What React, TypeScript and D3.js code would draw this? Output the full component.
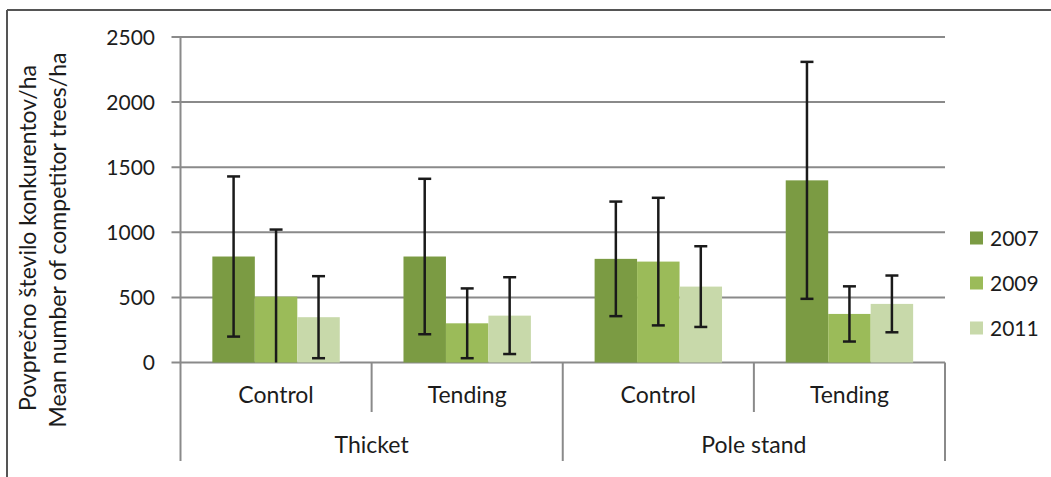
import React from 'react';
import * as d3 from 'd3';

// groups on the x axis (outer) and their sub-categories (inner)
const parents = ['Thicket', 'Pole stand'];
const treatments = ['Control', 'Tending'];
const years = ['2007', '2009', '2011'];

// mean competitor trees/ha, one array per year, order: Thicket Control, Thicket Tending, Pole Control, Pole Tending
const mean2007 = [814, 814, 796, 1399];
const mean2009 = [506, 301, 775, 373];
const mean2011 = [348, 360, 583, 450];

// error (+/-) for each bar
const err2007 = [615, 597, 440, 910];
const err2009 = [515, 268, 490, 212];
const err2011 = [315, 295, 310, 218];

const yTicks = [0, 500, 1000, 1500, 2000, 2500];

const colors = ['#7b9b43', '#9bbb59', '#c8d9aa'];
const FONT = 'Lato, "Open Sans", sans-serif';
const GRID = '#8a8a8a';
const TEXT = '#1c1c1c';

const W = 1051;
const H = 477;
const left = 180.5;
const right = 945;
const top = 37;
const bottom = 362.5;

const App = () => {
  const means = [mean2007, mean2009, mean2011];
  const errs = [err2007, err2009, err2011];

  const groups = parents.flatMap((p) => treatments.map((t) => `${p}|${t}`));

  const y = d3.scaleLinear().domain([0, 2500]).range([bottom, top]);
  const x0 = d3.scaleBand().domain(groups).range([left, right]).paddingInner(0).paddingOuter(0);
  const x1 = d3.scaleBand().domain(years).range([0, x0.bandwidth()]).paddingInner(0).paddingOuter(0.75);

  const capHalf = 6.5;

  return (
    <svg width={W} height={H} style={{ position: 'absolute', left: 0, top: 0, background: '#fff' }}>
      {/* frame */}
      <line x1={7} x2={W} y1={10} y2={10} stroke="#555" strokeWidth={2} />
      <line x1={7} x2={7} y1={10} y2={H} stroke="#555" strokeWidth={2} />

      {/* grid and y ticks */}
      {yTicks.map((t) => (
        <g key={t}>
          <line x1={left - 9} x2={right} y1={y(t)} y2={y(t)} stroke={GRID} strokeWidth={2} />
          <text x={155} y={y(t)} dy="0.36em" textAnchor="end" fontFamily={FONT} fontSize={21} fill={TEXT}>
            {t}
          </text>
        </g>
      ))}
      <line x1={left} x2={left} y1={top} y2={bottom} stroke={GRID} strokeWidth={2} />

      {/* bars */}
      {groups.map((g, gi) => (
        <g key={g} transform={`translate(${x0(g)},0)`}>
          {years.map((yr, si) => (
            <rect
              key={yr}
              x={x1(yr)}
              y={y(means[si][gi])}
              width={x1.bandwidth()}
              height={y(0) - y(means[si][gi])}
              fill={colors[si]}
            />
          ))}
        </g>
      ))}

      {/* error bars */}
      {groups.map((g, gi) => (
        <g key={g + 'err'} transform={`translate(${x0(g)},0)`}>
          {years.map((yr, si) => {
            const cx = (x1(yr) as number) + x1.bandwidth() / 2;
            const hi = means[si][gi] + errs[si][gi];
            const lo = means[si][gi] - errs[si][gi];
            return (
              <g key={yr} stroke="#1a1a1a" strokeWidth={2.5}>
                <line x1={cx} x2={cx} y1={y(hi)} y2={y(Math.max(0, lo))} />
                <line x1={cx - capHalf} x2={cx + capHalf} y1={y(hi)} y2={y(hi)} />
                {lo >= 0 && <line x1={cx - capHalf} x2={cx + capHalf} y1={y(lo)} y2={y(lo)} />}
              </g>
            );
          })}
        </g>
      ))}

      {/* category axis dividers */}
      {groups.map((g, gi) => {
        const xl = x0(g) as number;
        const outer = gi % treatments.length === 0;
        return (
          <line key={g + 'div'} x1={xl} x2={xl} y1={bottom} y2={outer ? 461 : 412} stroke={GRID} strokeWidth={2} />
        );
      })}
      <line x1={right} x2={right} y1={bottom} y2={461} stroke={GRID} strokeWidth={2} />

      {/* category labels */}
      {groups.map((g) => (
        <text
          key={g + 'lbl'}
          x={(x0(g) as number) + x0.bandwidth() / 2}
          y={395}
          dy="0.36em"
          textAnchor="middle"
          fontFamily={FONT}
          fontSize={23}
          fill={TEXT}
        >
          {g.split('|')[1]}
        </text>
      ))}
      {parents.map((p) => {
        const first = x0(`${p}|${treatments[0]}`) as number;
        const cx = first + x0.bandwidth();
        return (
          <text key={p} x={cx} y={445} dy="0.36em" textAnchor="middle" fontFamily={FONT} fontSize={23} fill={TEXT}>
            {p}
          </text>
        );
      })}

      {/* y axis title */}
      <g transform="translate(28,238) rotate(-90)">
        <text textAnchor="middle" dy="0.36em" fontFamily={FONT} fontSize={23} fill={TEXT}>
          Povprečno število konkurentov/ha
        </text>
      </g>
      <g transform="translate(58,240) rotate(-90)">
        <text textAnchor="middle" dy="0.36em" fontFamily={FONT} fontSize={23} fill={TEXT}>
          Mean number of competitor trees/ha
        </text>
      </g>

      {/* legend */}
      {years.map((yr, i) => {
        const cy = 238 + i * 45;
        return (
          <g key={yr + 'leg'}>
            <rect x={970} y={cy - 6.5} width={13} height={13} fill={colors[i]} />
            <text x={990} y={cy} dy="0.36em" fontFamily={FONT} fontSize={21} fill={TEXT}>
              {yr}
            </text>
          </g>
        );
      })}
    </svg>
  );
};

export default App;
